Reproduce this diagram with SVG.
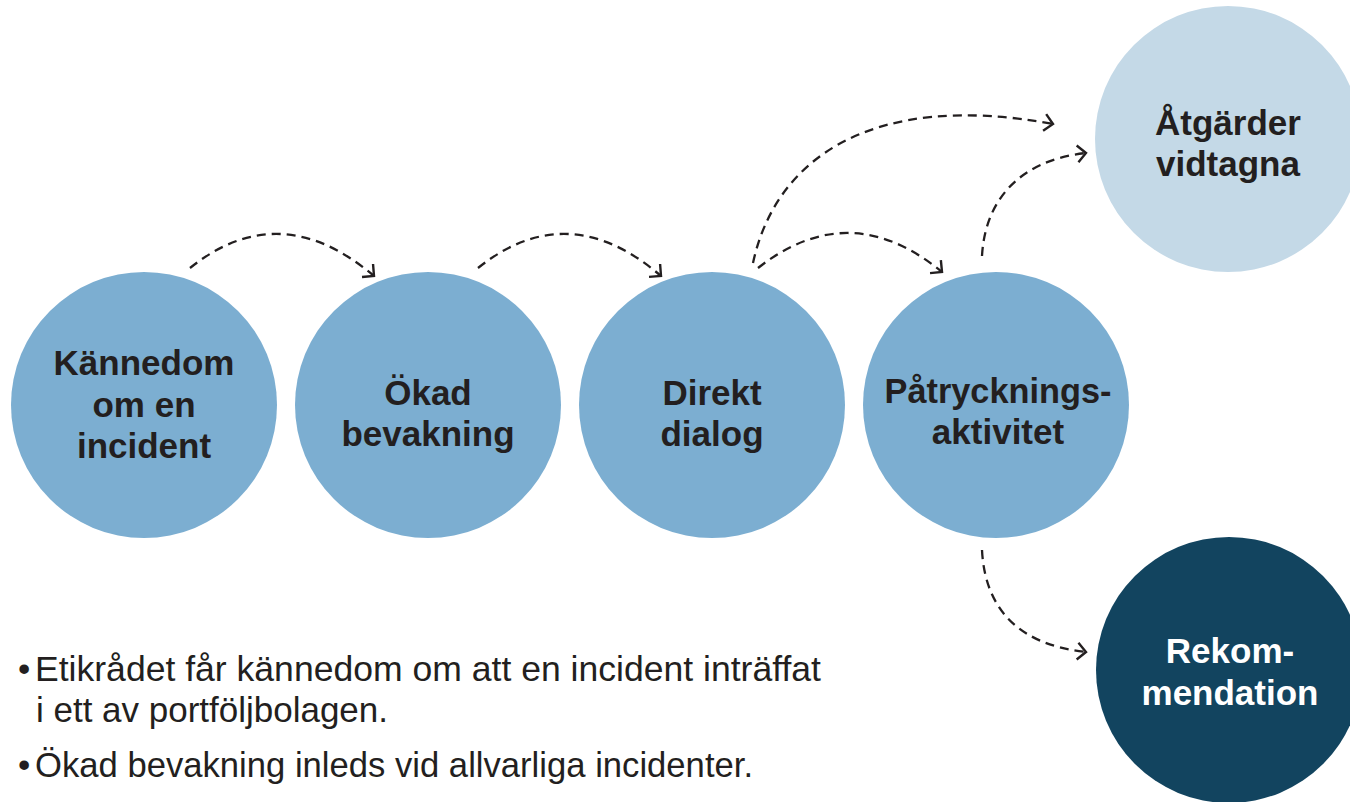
<svg xmlns="http://www.w3.org/2000/svg" width="1350" height="802" viewBox="0 0 1350 802">
<defs>
<style>
.c{fill:#7CAED1}
.cl{fill:#C4D9E7}
.cd{fill:#12445F}
.t{font-family:"Liberation Sans",Arial,sans-serif;font-weight:bold;font-size:35px;fill:#231F20;text-anchor:middle}
.tw{fill:#FFFFFF}
.b{font-family:"Liberation Sans",Arial,sans-serif;font-size:35px;fill:#231F20}
.a{fill:none;stroke:#231F20;stroke-width:2.3;stroke-dasharray:9 6}
</style>
<marker id="ah" markerUnits="userSpaceOnUse" markerWidth="20" markerHeight="20" viewBox="-10 -10 20 20" refX="0" refY="0" orient="auto">
<path d="M-8.5,-8.5 L0,0 L-8.5,8.5" fill="none" stroke="#231F20" stroke-width="2.4"/>
</marker>
</defs>
<rect width="1350" height="802" fill="#FFFFFF"/>
<g id="n1"><circle class="c" cx="144" cy="405" r="133"/>
<text class="t" x="144" y="375">Kännedom</text><text class="t" x="144" y="417">om en</text><text class="t" x="144" y="458">incident</text></g>
<g id="n2"><circle class="c" cx="428" cy="405" r="133"/>
<text class="t" x="428" y="405">Ökad</text><text class="t" x="428" y="446">bevakning</text></g>
<g id="n3"><circle class="c" cx="712" cy="405" r="133"/>
<text class="t" x="712" y="405">Direkt</text><text class="t" x="712" y="446">dialog</text></g>
<g id="n4"><circle class="c" cx="996" cy="405" r="133"/>
<text class="t" x="998" y="403" textLength="227" lengthAdjust="spacingAndGlyphs">Påtrycknings-</text><text class="t" x="998" y="444">aktivitet</text></g>
<g id="n5"><circle class="cl" cx="1228" cy="139" r="133"/>
<text class="t" x="1228" y="135">Åtgärder</text><text class="t" x="1228" y="176">vidtagna</text></g>
<g id="n6"><circle class="cd" cx="1229" cy="670" r="133"/>
<text class="t tw" x="1230" y="663">Rekom-</text><text class="t tw" x="1230" y="705">mendation</text></g>
<g id="connectors">
<path class="a" d="M190,268 Q280,196 374,276" marker-end="url(#ah)"/>
<path class="a" d="M478,268 Q568,196 661,276" marker-end="url(#ah)"/>
<path class="a" d="M758,268 Q850,196 942,272" marker-end="url(#ah)"/>
<path class="a" d="M753,263 C775,160 870,90 1053,124" marker-end="url(#ah)"/>
<path class="a" d="M982,256 C985,200 1020,160 1086,153" marker-end="url(#ah)"/>
<path class="a" d="M982,550 C985,610 1020,645 1086,652" marker-end="url(#ah)"/>
</g>
<g id="notes">
<text class="b" x="18" y="681">•</text>
<text class="b" x="35" y="681" textLength="786" lengthAdjust="spacingAndGlyphs">Etikrådet får kännedom om att en incident inträffat</text>
<text class="b" x="36" y="722" textLength="352" lengthAdjust="spacingAndGlyphs">i ett av portföljbolagen.</text>
<text class="b" x="18" y="777">•</text>
<text class="b" x="35" y="777" textLength="718" lengthAdjust="spacingAndGlyphs">Ökad bevakning inleds vid allvarliga incidenter.</text>
</g>
</svg>
